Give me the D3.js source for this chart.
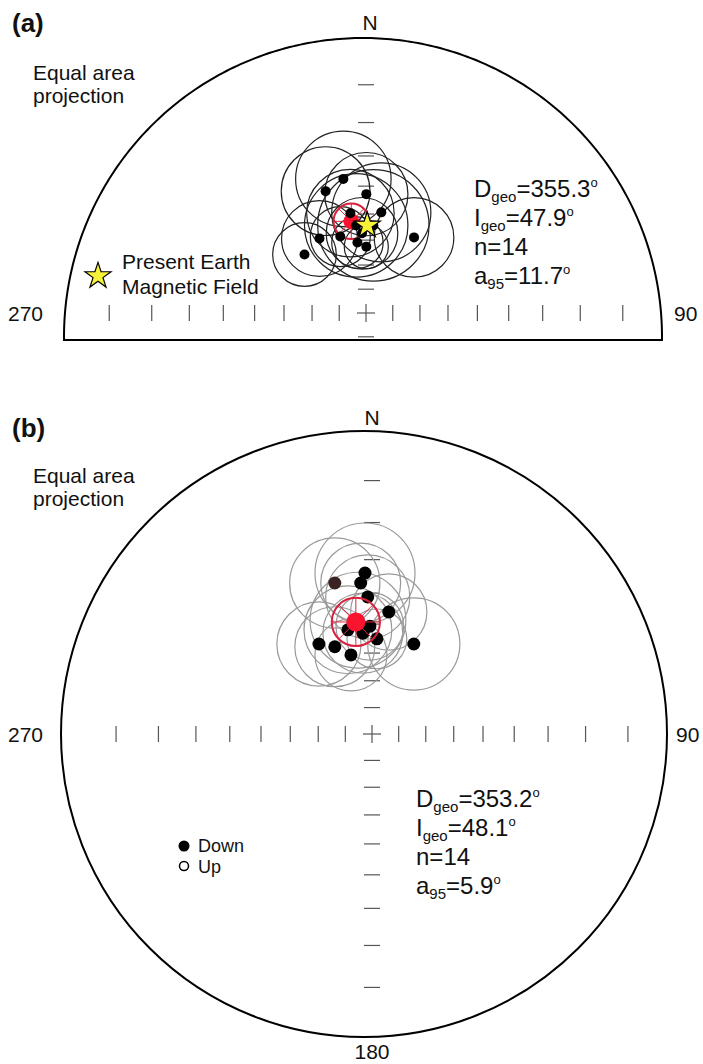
<!DOCTYPE html>
<html>
<head>
<meta charset="utf-8">
<script src="https://cdn.jsdelivr.net/npm/d3@7"></script>
<style>
  body { margin: 0; background: #fff; }
  text { font-family: "Liberation Sans", Arial, sans-serif; fill: #111; }
</style>
</head>
<body>
<svg id="chart" width="703" height="1064"></svg>
<script>
// inclination ticks along the N-S and E-W axes, degrees
var tickInc = [10, 20, 30, 40, 50, 60, 70, 80];

// site directions, projected: [east, north] on the unit net
var sitesA = [
  [-0.074, 0.493], [-0.132, 0.448], [0.001, 0.437], [0.050, 0.370],
  [0.157, 0.278], [-0.152, 0.274], [-0.084, 0.281], [0.001, 0.244],
  [-0.201, 0.215], [-0.032, 0.322], [-0.051, 0.367], [-0.013, 0.293],
  [0.024, 0.322], [-0.028, 0.259]
];
// a95 circle radius of each site, unit net
var a95A = [0.156, 0.145, 0.136, 0.162, 0.130, 0.124, 0.098, 0.072,
  0.104, 0.169, 0.143, 0.117, 0.182, 0.084];
var meanA = [-0.048, 0.337];
var meanA95 = 0.058;
var pefA = [0.004, 0.322];
var statsA = [["D", "geo", "=355.3", "o"], ["I", "geo", "=47.9", "o"], ["n", "", "=14", ""], ["a", "95", "=11.7", "o"]];

var sitesB = [
  [-0.023, 0.533], [-0.122, 0.500], [-0.037, 0.500], [-0.014, 0.454],
  [0.055, 0.404], [-0.079, 0.345], [-0.030, 0.334], [0.016, 0.315],
  [-0.174, 0.298], [-0.122, 0.289], [-0.069, 0.262], [0.137, 0.298],
  [-0.046, 0.377], [-0.007, 0.357]
];
var a95B = [0.164, 0.148, 0.131, 0.138, 0.125, 0.144, 0.131, 0.098,
  0.138, 0.131, 0.118, 0.151, 0.157, 0.111];
var meanB = [-0.053, 0.371];
var meanB95 = 0.079;
var statsB = [["D", "geo", "=353.2", "o"], ["I", "geo", "=48.1", "o"], ["n", "", "=14", ""], ["a", "95", "=5.9", "o"]];

var svg = d3.select('#chart');

// stereographic radius of an inclination on the net
function netR(inc) {
  return Math.tan((90 - inc) / 2 * Math.PI / 180);
}

function net(g, opt) {
  var x = d3.scaleLinear().domain([-1, 1]).range([opt.cx - opt.sx, opt.cx + opt.sx]);
  var y = d3.scaleLinear().domain([-1, 1]).range([opt.cy + opt.sy, opt.cy - opt.sy]);
  var o = opt.outline;

  // primitive circle (cut flat at the bottom for panel a)
  if (o.cut != null) {
    var a0 = Math.asin(Math.min(1, (o.cut - o.cy) / o.r));
    var arc = d3.range(0, 241).map(function (i) {
      var t = (Math.PI + a0) - (Math.PI + 2 * a0) * i / 240;
      return [o.cx + o.r * Math.cos(t), o.cy - o.r * Math.sin(t)];
    });
    g.append('path')
      .attr('d', d3.line()(arc) + 'Z')
      .attr('fill', 'none')
      .attr('stroke', '#000')
      .attr('stroke-width', 2);
  } else {
    g.append('circle')
      .attr('cx', o.cx).attr('cy', o.cy).attr('r', o.r)
      .attr('fill', 'none')
      .attr('stroke', '#000')
      .attr('stroke-width', 2);
  }

  var ticks = g.append('g').attr('stroke', '#555').attr('stroke-width', 1.2);
  var hx = [];
  tickInc.forEach(function (d) { hx.push(netR(d), -netR(d)); });
  ticks.selectAll('.tx').data(hx).enter().append('line')
    .attr('x1', function (d) { return x(d); })
    .attr('x2', function (d) { return x(d); })
    .attr('y1', opt.cy - 8).attr('y2', opt.cy + 8);

  var vy = tickInc.map(netR);
  if (o.cut == null) vy = vy.concat(tickInc.map(function (d) { return -netR(d); }));
  else vy.push(-netR(80));
  ticks.selectAll('.ty').data(vy).enter().append('line')
    .attr('y1', function (d) { return y(d); })
    .attr('y2', function (d) { return y(d); })
    .attr('x1', opt.cx - 8).attr('x2', opt.cx + 8);
  ticks.append('line').attr('x1', opt.cx - 9).attr('x2', opt.cx + 9).attr('y1', opt.cy).attr('y2', opt.cy);
  ticks.append('line').attr('x1', opt.cx).attr('x2', opt.cx).attr('y1', opt.cy - 9).attr('y2', opt.cy + 9);

  // confidence circles
  g.append('g').selectAll('circle').data(opt.sites).enter().append('circle')
    .attr('cx', function (d) { return x(d[0]); })
    .attr('cy', function (d) { return y(d[1]); })
    .attr('r', function (d, i) { return x(opt.a95[i]) - x(0); })
    .attr('fill', 'none')
    .attr('stroke', opt.ringColor)
    .attr('stroke-width', 1.2);

  function drawMean() {
    var mx = x(opt.mean[0]), my = y(opt.mean[1]);
    var mr = x(opt.mean95) - x(0);
    var m = g.append('g');
    m.selectAll('line').data(d3.range(8)).enter().append('line')
      .attr('x1', function (d) { return mx + 6 * Math.cos(d * Math.PI / 4); })
      .attr('y1', function (d) { return my + 6 * Math.sin(d * Math.PI / 4); })
      .attr('x2', function (d) { return mx + mr * Math.cos(d * Math.PI / 4); })
      .attr('y2', function (d) { return my + mr * Math.sin(d * Math.PI / 4); })
      .attr('stroke', '#e0283f').attr('stroke-width', 1);
    m.append('circle').attr('cx', mx).attr('cy', my).attr('r', mr)
      .attr('fill', 'none').attr('stroke', '#d9203c').attr('stroke-width', 2);
    m.append('circle').attr('cx', mx).attr('cy', my).attr('r', opt.meanDot)
      .attr('fill', '#fb1430');
  }

  function drawSites() {
    g.append('g').selectAll('circle').data(opt.sites).enter().append('circle')
      .attr('cx', function (d) { return x(d[0]); })
      .attr('cy', function (d) { return y(d[1]); })
      .attr('r', opt.dot)
      .attr('fill', function (d, i) { return opt.dotColor ? opt.dotColor(i) : '#000'; });
  }

  if (opt.redOnTop) { drawSites(); drawMean(); } else { drawMean(); drawSites(); }

  if (opt.pef) {
    g.append('path')
      .attr('d', d3.symbol(d3.symbolStar, 210)())
      .attr('transform', 'translate(' + x(opt.pef[0]) + ',' + y(opt.pef[1]) + ')')
      .attr('fill', '#f7f238')
      .attr('stroke', '#000')
      .attr('stroke-width', 1.2);
  }

  // stats block
  var st = g.append('g');
  opt.stats.forEach(function (s, i) {
    var t = st.append('text')
      .attr('x', opt.statX)
      .attr('y', opt.statY + i * opt.statDy)
      .attr('font-size', 24);
    t.append('tspan').text(s[0]);
    if (s[1]) {
      t.append('tspan').attr('font-size', 15).attr('dy', 5).text(s[1]);
      t.append('tspan').attr('dy', -5).text(s[2]);
    } else {
      t.append('tspan').text(s[2]);
    }
    if (s[3]) t.append('tspan').attr('font-size', 13).attr('dy', -10).text(s[3]);
  });

  return { x: x, y: y };
}

// ---- panel (a)
var gA = svg.append('g');
net(gA, {
  cx: 366, cy: 313, sx: 306, sy: 272,
  outline: { cx: 363, cy: 337, r: 299, cut: 340 },
  sites: sitesA, a95: a95A, mean: meanA, mean95: meanA95, pef: pefA,
  ringColor: '#222', dot: 5, meanDot: 8, redOnTop: false,
  stats: statsA, statX: 474, statY: 197, statDy: 29
});
gA.append('text').attr('x', 12).attr('y', 32).attr('font-size', 26).attr('font-weight', 'bold').text('(a)');
gA.append('text').attr('x', 370).attr('y', 30).attr('font-size', 21).attr('text-anchor', 'middle').text('N');
gA.append('text').attr('x', 33).attr('y', 80).attr('font-size', 21).text('Equal area');
gA.append('text').attr('x', 33).attr('y', 103).attr('font-size', 21).text('projection');
gA.append('text').attr('x', 8).attr('y', 321).attr('font-size', 21).text('270');
gA.append('text').attr('x', 674).attr('y', 321).attr('font-size', 21).text('90');
gA.append('path')
  .attr('d', d3.symbol(d3.symbolStar, 210)())
  .attr('transform', 'translate(98,276)')
  .attr('fill', '#f7f238').attr('stroke', '#000').attr('stroke-width', 1.2);
gA.append('text').attr('x', 122).attr('y', 269).attr('font-size', 21).text('Present Earth');
gA.append('text').attr('x', 122).attr('y', 294).attr('font-size', 21).text('Magnetic Field');

// ---- panel (b)
var gB = svg.append('g');
net(gB, {
  cx: 372, cy: 734, sx: 305, sy: 302,
  outline: { cx: 364, cy: 734, r: 303 },
  sites: sitesB, a95: a95B, mean: meanB, mean95: meanB95, pef: null,
  ringColor: '#9a9a9a', dot: 6.5, meanDot: 9.5, redOnTop: true,
  dotColor: function (i) { return i === 1 ? '#3a2222' : '#000'; },
  stats: statsB, statX: 416, statY: 807, statDy: 29
});
gB.append('text').attr('x', 12).attr('y', 437).attr('font-size', 26).attr('font-weight', 'bold').text('(b)');
gB.append('text').attr('x', 372).attr('y', 425).attr('font-size', 21).attr('text-anchor', 'middle').text('N');
gB.append('text').attr('x', 33).attr('y', 483).attr('font-size', 21).text('Equal area');
gB.append('text').attr('x', 33).attr('y', 506).attr('font-size', 21).text('projection');
gB.append('text').attr('x', 8).attr('y', 742).attr('font-size', 21).text('270');
gB.append('text').attr('x', 676).attr('y', 742).attr('font-size', 21).text('90');
gB.append('text').attr('x', 372).attr('y', 1059).attr('font-size', 21).attr('text-anchor', 'middle').text('180');
gB.append('circle').attr('cx', 184).attr('cy', 846).attr('r', 5.5).attr('fill', '#000');
gB.append('circle').attr('cx', 184).attr('cy', 866).attr('r', 4.5).attr('fill', '#fff').attr('stroke', '#000').attr('stroke-width', 1.5);
gB.append('text').attr('x', 198).attr('y', 852).attr('font-size', 18).text('Down');
gB.append('text').attr('x', 198).attr('y', 873).attr('font-size', 18).text('Up');
</script>
</body>
</html>
